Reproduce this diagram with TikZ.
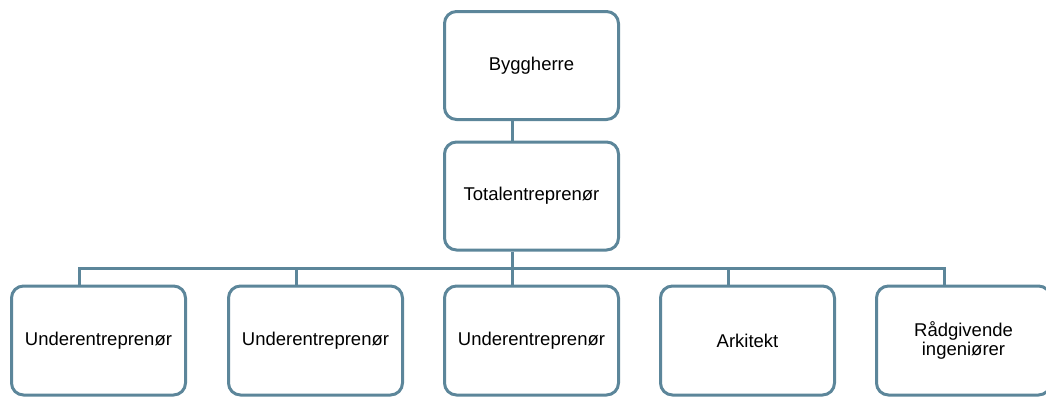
\documentclass[tikz,border=0pt]{standalone}
\usepackage{fontspec}
\setmainfont{Liberation Sans}
\definecolor{frame}{RGB}{92,134,154}
\begin{document}
\begin{tikzpicture}[x=1pt,y=-1pt,
  box/.style={draw=frame, line width=3pt, rounded corners=12pt, fill=white,
    minimum width=174pt, minimum height=108pt, inner sep=2pt,
    align=center, font=\fontsize{18.5}{19}\selectfont},
  link/.style={draw=frame, line width=3pt, line join=miter}]
\useasboundingbox (0,0) rectangle (1046,397);
\clip (0,0) rectangle (1046,397);

% owner and general contractor
\node[box] (owner) at (531.5,65.5) {Byggherre};
\node[box] (gc) at (531.5,196) {Totalentreprenør};

% bottom row
\node[box, minimum height=109pt] (u1) at (98.5,340.5) {Underentreprenør};
\node[box, minimum height=109pt] (u2) at (315.5,340.5) {Underentreprenør};
\node[box, minimum height=109pt] (u3) at (531.5,340.5) {Underentreprenør};
\node[box, minimum height=109pt] (ark) at (747.5,340.5) {Arkitekt};
\node[box, minimum height=109pt] (rig) at (963.5,340.5) {Rådgivende\\ingeniører};

% level of the distribution line
\coordinate (bus) at (0,268);

% connectors (offset from box centres)
\path[link] ([xshift=-19pt]owner.south) -- ([xshift=-19pt]gc.north);
\path[link] ([xshift=-19pt]gc.south) -- ([xshift=-19pt]gc.south |- bus);
\path[link] ([xshift=-19pt]u1.north) -- ([xshift=-19pt]u1.north |- bus)
  -- ([xshift=-19pt]rig.north |- bus) -- ([xshift=-19pt]rig.north);
\path[link] ([xshift=-19pt]u2.north |- bus) -- ([xshift=-19pt]u2.north);
\path[link] ([xshift=-19pt]u3.north |- bus) -- ([xshift=-19pt]u3.north);
\path[link] ([xshift=-19pt]ark.north |- bus) -- ([xshift=-19pt]ark.north);
\end{tikzpicture}
\end{document}
